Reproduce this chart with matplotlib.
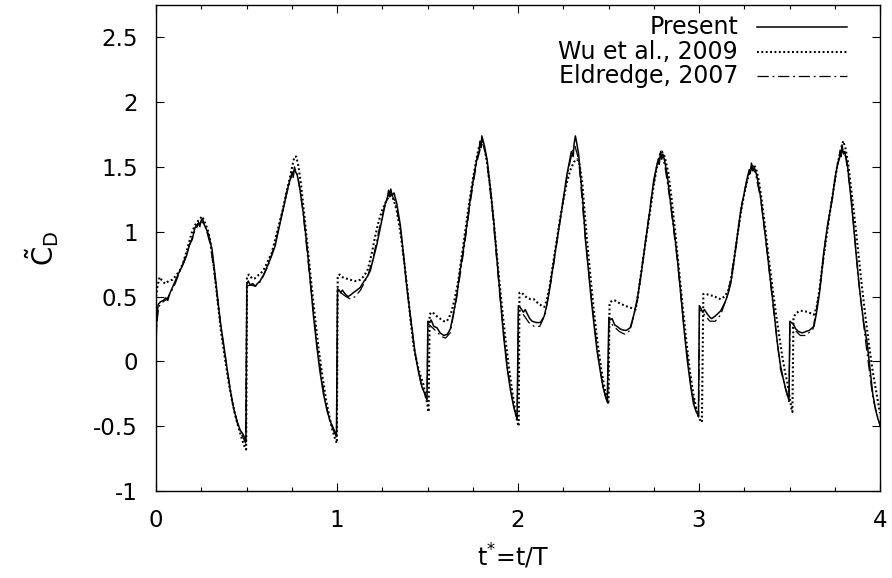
import numpy as np
import matplotlib
matplotlib.use("Agg")
import matplotlib.pyplot as plt
from matplotlib.ticker import MultipleLocator
from matplotlib.lines import Line2D

plt.rcParams["font.family"] = ["DejaVu Sans"]
plt.rcParams["mathtext.fontset"] = "dejavusans"
plt.rcParams["mathtext.default"] = "regular"

# (t*, C_D) samples, one row per point
present_pts = np.array([
    (0.000, 0.10), (0.004, 0.33), (0.012, 0.44), (0.025, 0.46), (0.040, 0.47), (0.055, 0.49),
    (0.065, 0.47), (0.075, 0.52), (0.100, 0.60), (0.125, 0.68), (0.150, 0.75), (0.170, 0.82),
    (0.185, 0.90), (0.200, 0.94), (0.215, 1.03), (0.225, 1.05), (0.235, 1.07), (0.242, 1.04),
    (0.250, 1.09), (0.258, 1.10), (0.265, 1.06), (0.275, 1.03), (0.290, 0.98), (0.310, 0.86),
    (0.330, 0.62), (0.355, 0.31), (0.375, 0.12), (0.390, -0.03), (0.410, -0.22), (0.430, -0.37),
    (0.450, -0.47), (0.465, -0.53), (0.480, -0.56), (0.490, -0.59), (0.497, -0.62),
    (0.502, 0.60), (0.510, 0.62), (0.520, 0.59), (0.535, 0.60), (0.548, 0.58), (0.560, 0.60),
    (0.575, 0.62), (0.595, 0.67), (0.620, 0.75), (0.640, 0.82), (0.658, 0.89), (0.675, 1.00),
    (0.695, 1.13), (0.710, 1.22), (0.723, 1.31), (0.740, 1.40), (0.752, 1.46), (0.758, 1.42),
    (0.765, 1.50), (0.772, 1.46), (0.780, 1.44), (0.795, 1.33), (0.815, 1.13), (0.835, 0.88),
    (0.852, 0.62), (0.870, 0.35), (0.889, 0.11), (0.905, -0.07), (0.925, -0.25), (0.945, -0.38),
    (0.962, -0.46), (0.978, -0.51), (0.990, -0.55), (0.997, -0.58),
    (1.003, 0.56), (1.012, 0.55), (1.020, 0.53), (1.030, 0.55), (1.045, 0.52), (1.060, 0.50),
    (1.073, 0.51), (1.090, 0.53), (1.110, 0.55), (1.128, 0.57), (1.150, 0.62), (1.170, 0.66),
    (1.184, 0.70), (1.200, 0.79), (1.220, 0.90), (1.245, 1.07), (1.267, 1.22), (1.278, 1.26),
    (1.285, 1.32), (1.290, 1.27), (1.297, 1.33), (1.305, 1.28), (1.315, 1.30), (1.330, 1.22),
    (1.350, 1.05), (1.368, 0.82), (1.386, 0.57), (1.410, 0.30), (1.432, 0.06), (1.450, -0.08),
    (1.470, -0.20), (1.485, -0.25), (1.497, -0.29),
    (1.502, 0.31), (1.510, 0.30), (1.520, 0.32), (1.535, 0.27), (1.552, 0.26), (1.570, 0.22),
    (1.590, 0.20), (1.610, 0.21), (1.626, 0.25), (1.645, 0.38), (1.663, 0.52), (1.680, 0.70),
    (1.700, 0.88), (1.720, 1.08), (1.737, 1.26), (1.755, 1.42), (1.774, 1.57), (1.785, 1.62),
    (1.790, 1.70), (1.796, 1.65), (1.800, 1.74), (1.808, 1.70), (1.815, 1.66), (1.830, 1.55),
    (1.848, 1.33), (1.866, 1.08), (1.885, 0.77), (1.903, 0.47), (1.920, 0.20), (1.940, -0.05),
    (1.958, -0.22), (1.976, -0.35), (1.988, -0.41), (1.995, -0.44),
    (2.002, 0.43), (2.010, 0.42), (2.020, 0.40), (2.030, 0.38), (2.040, 0.40), (2.050, 0.37),
    (2.065, 0.33), (2.078, 0.31), (2.100, 0.30), (2.124, 0.30), (2.145, 0.35), (2.160, 0.44),
    (2.175, 0.56), (2.190, 0.70), (2.210, 0.88), (2.235, 1.11), (2.250, 1.25), (2.270, 1.44),
    (2.285, 1.55), (2.295, 1.62), (2.305, 1.58), (2.310, 1.68), (2.317, 1.74), (2.325, 1.68),
    (2.335, 1.60), (2.345, 1.44), (2.360, 1.20), (2.373, 0.93), (2.388, 0.72), (2.400, 0.54),
    (2.420, 0.28), (2.437, 0.08), (2.455, -0.08), (2.470, -0.20), (2.485, -0.28), (2.493, -0.31),
    (2.502, 0.34), (2.510, 0.32), (2.520, 0.33), (2.535, 0.28), (2.548, 0.27), (2.565, 0.25),
    (2.585, 0.24), (2.600, 0.24), (2.620, 0.26), (2.640, 0.36), (2.660, 0.49), (2.685, 0.72),
    (2.705, 0.93), (2.730, 1.18), (2.750, 1.40), (2.765, 1.50), (2.775, 1.56), (2.780, 1.52),
    (2.788, 1.62), (2.795, 1.56), (2.800, 1.60), (2.810, 1.55), (2.824, 1.44), (2.845, 1.20),
    (2.865, 0.98), (2.880, 0.80), (2.898, 0.54), (2.915, 0.28), (2.935, 0.01), (2.955, -0.20),
    (2.970, -0.33), (2.985, -0.39), (2.997, -0.42),
    (3.002, 0.43), (3.010, 0.41), (3.020, 0.38), (3.030, 0.40), (3.046, 0.365), (3.060, 0.34),
    (3.070, 0.33), (3.090, 0.35), (3.120, 0.39), (3.145, 0.46), (3.160, 0.52), (3.175, 0.60),
    (3.190, 0.74), (3.200, 0.85), (3.215, 1.00), (3.230, 1.16), (3.250, 1.30), (3.267, 1.42),
    (3.278, 1.48), (3.283, 1.45), (3.290, 1.53), (3.297, 1.47), (3.305, 1.50), (3.320, 1.43),
    (3.340, 1.27), (3.355, 1.10), (3.368, 0.95), (3.390, 0.68), (3.414, 0.39), (3.432, 0.15),
    (3.450, -0.03), (3.465, -0.13), (3.480, -0.22), (3.497, -0.30),
    (3.502, 0.31), (3.510, 0.30), (3.520, 0.29), (3.535, 0.25), (3.550, 0.23), (3.570, 0.22),
    (3.590, 0.23), (3.610, 0.24), (3.635, 0.27), (3.650, 0.38), (3.665, 0.52), (3.690, 0.85),
    (3.710, 1.05), (3.737, 1.26), (3.750, 1.40), (3.765, 1.52), (3.775, 1.56), (3.780, 1.62),
    (3.785, 1.58), (3.790, 1.67), (3.798, 1.60), (3.805, 1.62), (3.820, 1.52), (3.838, 1.28),
    (3.855, 1.03), (3.870, 0.80), (3.890, 0.52), (3.910, 0.30), (3.930, 0.13), (3.945, -0.06),
    (3.960, -0.25), (3.975, -0.37), (3.990, -0.45), (4.000, -0.48),
])

wu_pts = np.array([
    (0.000, 0.50), (0.008, 0.58), (0.020, 0.65), (0.035, 0.62), (0.050, 0.60), (0.070, 0.62),
    (0.090, 0.63), (0.110, 0.66), (0.130, 0.70), (0.150, 0.76), (0.175, 0.88), (0.197, 0.99),
    (0.215, 1.05), (0.230, 1.08), (0.243, 1.10), (0.255, 1.12), (0.270, 1.07), (0.285, 1.02),
    (0.300, 0.93), (0.320, 0.72), (0.340, 0.47), (0.360, 0.22), (0.380, 0.03), (0.400, -0.15),
    (0.420, -0.30), (0.440, -0.43), (0.460, -0.53), (0.475, -0.60), (0.490, -0.66), (0.498, -0.68),
    (0.503, 0.66), (0.515, 0.67), (0.530, 0.64), (0.545, 0.64), (0.560, 0.66), (0.580, 0.68),
    (0.600, 0.72), (0.620, 0.78), (0.640, 0.84), (0.660, 0.95), (0.680, 1.06), (0.700, 1.17),
    (0.720, 1.30), (0.740, 1.42), (0.755, 1.52), (0.765, 1.58), (0.775, 1.58), (0.785, 1.52),
    (0.800, 1.38), (0.820, 1.12), (0.840, 0.85), (0.860, 0.58), (0.880, 0.32), (0.900, 0.08),
    (0.920, -0.12), (0.940, -0.30), (0.960, -0.44), (0.975, -0.53), (0.990, -0.60), (0.999, -0.63),
    (1.004, 0.66), (1.015, 0.67), (1.030, 0.65), (1.050, 0.64), (1.073, 0.63), (1.100, 0.62),
    (1.128, 0.63), (1.150, 0.66), (1.170, 0.71), (1.190, 0.82), (1.210, 0.96), (1.230, 1.08),
    (1.250, 1.17), (1.270, 1.23), (1.285, 1.27), (1.300, 1.28), (1.315, 1.24), (1.330, 1.16),
    (1.350, 1.00), (1.370, 0.78), (1.390, 0.55), (1.405, 0.33), (1.425, 0.10), (1.450, -0.06),
    (1.478, -0.18), (1.490, -0.27), (1.500, -0.34), (1.506, -0.39),
    (1.512, 0.36), (1.520, 0.38), (1.535, 0.37), (1.550, 0.35), (1.570, 0.33), (1.590, 0.31),
    (1.607, 0.31), (1.630, 0.37), (1.650, 0.48), (1.670, 0.62), (1.690, 0.82), (1.710, 1.02),
    (1.730, 1.22), (1.750, 1.40), (1.770, 1.56), (1.785, 1.66), (1.800, 1.70), (1.815, 1.65),
    (1.830, 1.52), (1.850, 1.30), (1.870, 1.02), (1.890, 0.72), (1.910, 0.44), (1.930, 0.18),
    (1.950, -0.05), (1.970, -0.25), (1.985, -0.38), (1.995, -0.46), (2.004, -0.50),
    (2.008, 0.53), (2.020, 0.53), (2.035, 0.51), (2.050, 0.49), (2.070, 0.48), (2.087, 0.48),
    (2.110, 0.45), (2.130, 0.43), (2.145, 0.42), (2.160, 0.48), (2.175, 0.58), (2.190, 0.72),
    (2.210, 0.90), (2.230, 1.08), (2.250, 1.24), (2.270, 1.38), (2.290, 1.48), (2.310, 1.54),
    (2.327, 1.56), (2.340, 1.52), (2.355, 1.38), (2.370, 1.12), (2.385, 0.88), (2.400, 0.66),
    (2.420, 0.38), (2.440, 0.14), (2.460, -0.06), (2.475, -0.18), (2.490, -0.28), (2.500, -0.33),
    (2.506, 0.45), (2.520, 0.47), (2.535, 0.47), (2.560, 0.45), (2.590, 0.43), (2.620, 0.415),
    (2.650, 0.40), (2.670, 0.58), (2.690, 0.78), (2.710, 0.97), (2.730, 1.16), (2.750, 1.36),
    (2.770, 1.52), (2.785, 1.60), (2.795, 1.62), (2.810, 1.58), (2.830, 1.46), (2.850, 1.24),
    (2.870, 0.98), (2.890, 0.70), (2.910, 0.42), (2.930, 0.16), (2.950, -0.08), (2.970, -0.26),
    (2.990, -0.40), (3.005, -0.45), (3.016, -0.47),
    (3.024, 0.52), (3.040, 0.52), (3.060, 0.51), (3.083, 0.505), (3.100, 0.49), (3.120, 0.48),
    (3.140, 0.50), (3.160, 0.54), (3.180, 0.65), (3.200, 0.85), (3.220, 1.05), (3.240, 1.22),
    (3.260, 1.36), (3.280, 1.46), (3.300, 1.52), (3.315, 1.49), (3.330, 1.40), (3.345, 1.26),
    (3.365, 1.04), (3.385, 0.80), (3.405, 0.58), (3.425, 0.37), (3.443, 0.20), (3.460, 0.04),
    (3.475, -0.08), (3.489, -0.17), (3.500, -0.27), (3.510, -0.36), (3.516, -0.39),
    (3.522, 0.34), (3.535, 0.37), (3.545, 0.38), (3.560, 0.39), (3.580, 0.39), (3.600, 0.38),
    (3.620, 0.37), (3.635, 0.36), (3.650, 0.42), (3.665, 0.55), (3.680, 0.72), (3.700, 0.92),
    (3.720, 1.12), (3.740, 1.30), (3.760, 1.48), (3.780, 1.62), (3.797, 1.70), (3.810, 1.64),
    (3.825, 1.52), (3.840, 1.34), (3.860, 1.10), (3.880, 0.84), (3.900, 0.58), (3.920, 0.34),
    (3.940, 0.12), (3.960, -0.08), (3.980, -0.24), (4.000, -0.40),
])

eldredge_pts = np.array([
    (0.000, 0.15), (0.005, 0.30), (0.015, 0.42), (0.030, 0.45), (0.060, 0.48), (0.100, 0.58),
    (0.140, 0.72), (0.180, 0.88), (0.210, 0.99), (0.235, 1.06), (0.255, 1.08), (0.275, 1.03),
    (0.300, 0.90), (0.330, 0.60), (0.360, 0.25), (0.390, -0.03), (0.420, -0.30), (0.450, -0.48),
    (0.475, -0.57), (0.495, -0.63),
    (0.502, 0.58), (0.520, 0.59), (0.550, 0.58), (0.580, 0.62), (0.620, 0.74), (0.660, 0.92),
    (0.700, 1.16), (0.730, 1.34), (0.755, 1.46), (0.770, 1.48), (0.785, 1.42), (0.810, 1.18),
    (0.850, 0.64), (0.890, 0.12), (0.930, -0.27), (0.960, -0.46), (0.985, -0.55), (0.998, -0.58),
    (1.003, 0.55), (1.020, 0.53), (1.050, 0.50), (1.075, 0.48), (1.100, 0.50), (1.130, 0.55),
    (1.170, 0.66), (1.200, 0.80), (1.230, 1.00), (1.260, 1.18), (1.285, 1.28), (1.300, 1.29),
    (1.320, 1.24), (1.350, 1.04), (1.385, 0.58), (1.430, 0.07), (1.465, -0.18), (1.497, -0.30),
    (1.503, 0.29), (1.520, 0.27), (1.550, 0.23), (1.580, 0.19), (1.600, 0.18), (1.625, 0.22),
    (1.660, 0.48), (1.700, 0.85), (1.740, 1.26), (1.770, 1.52), (1.795, 1.66), (1.805, 1.68),
    (1.825, 1.58), (1.860, 1.14), (1.900, 0.50), (1.940, -0.04), (1.975, -0.34), (1.995, -0.45),
    (2.003, 0.40), (2.030, 0.36), (2.060, 0.30), (2.090, 0.27), (2.120, 0.27), (2.150, 0.36),
    (2.190, 0.68), (2.230, 1.06), (2.270, 1.42), (2.300, 1.62), (2.315, 1.66), (2.335, 1.56),
    (2.370, 0.98), (2.400, 0.56), (2.440, 0.06), (2.470, -0.20), (2.495, -0.32),
    (2.503, 0.31), (2.530, 0.27), (2.560, 0.23), (2.590, 0.21), (2.620, 0.24), (2.660, 0.47),
    (2.700, 0.88), (2.740, 1.30), (2.770, 1.52), (2.790, 1.58), (2.810, 1.52), (2.840, 1.24),
    (2.880, 0.78), (2.920, 0.22), (2.960, -0.24), (2.998, -0.43),
    (3.003, 0.40), (3.030, 0.36), (3.060, 0.31), (3.090, 0.31), (3.120, 0.36), (3.160, 0.52),
    (3.200, 0.84), (3.240, 1.24), (3.270, 1.43), (3.290, 1.50), (3.310, 1.46), (3.340, 1.26),
    (3.370, 0.92), (3.410, 0.42), (3.450, -0.06), (3.497, -0.31),
    (3.503, 0.29), (3.530, 0.24), (3.560, 0.20), (3.590, 0.20), (3.630, 0.25), (3.670, 0.58),
    (3.700, 0.95), (3.740, 1.30), (3.770, 1.55), (3.790, 1.62), (3.810, 1.58), (3.840, 1.28),
    (3.880, 0.64), (3.920, 0.16), (3.960, -0.28), (4.000, -0.50),
])

series_labels = ["Present", "Wu et al., 2009", "Eldredge, 2007"]
x_ticks = [0, 1, 2, 3, 4]
y_ticks = [-1, -0.5, 0, 0.5, 1, 1.5, 2, 2.5]

W, H = 892, 578
fig = plt.figure(figsize=(W / 100, H / 100), dpi=100)
ax = fig.add_axes([156 / W, (H - 491) / H, (880 - 156) / W, (491 - 5) / H])

styles = [
    dict(color="black", lw=1.1, linestyle="-"),
    dict(color="black", lw=1.5, linestyle=(0, (0.9, 1.2))),
    dict(color="black", lw=0.9, linestyle=(0, (9.0, 3.0, 1.5, 3.0))),
]

ax.plot(eldredge_pts[:, 0], eldredge_pts[:, 1], **styles[2])
ax.plot(wu_pts[:, 0], wu_pts[:, 1], **styles[1])
ax.plot(present_pts[:, 0], present_pts[:, 1], **styles[0])

ax.set_xlim(0, 4)
ax.set_ylim(-1, 2.75)
ax.set_xticks(x_ticks)
ax.set_xticklabels([str(v) for v in x_ticks])
ax.set_yticks(y_ticks)
ax.set_yticklabels(["%g" % v for v in y_ticks])
ax.xaxis.set_minor_locator(MultipleLocator(0.25))

ax.tick_params(axis="both", which="both", direction="in", top=True, right=True,
               labelsize=16.5, width=0.8, color="black")
ax.tick_params(axis="both", which="major", length=6)
ax.tick_params(axis="x", which="minor", length=3)
ax.tick_params(axis="y", which="major", pad=13)
ax.tick_params(axis="x", which="major", pad=13)
for sp in ax.spines.values():
    sp.set_linewidth(1.0)

ax.set_xlabel(r"t$^{*}$=t/T", fontsize=17, labelpad=7)
ax.xaxis.set_label_coords(0.493, -0.105)
ax.set_ylabel(r"$\tilde{\mathregular{C}}_{\mathregular{D}}$", fontsize=20, labelpad=23)

# key in the upper right: right-aligned text followed by a line sample
x_text = (738 - 156) / 724
x0, x1 = (757 - 156) / 724, (847 - 156) / 724
rows = [(491 - 27) / 486, (491 - 52) / 486, (491 - 76) / 486]
for label, st, yr in zip(series_labels, styles, rows):
    ax.text(x_text, yr, label, transform=ax.transAxes, ha="right", va="center", fontsize=17)
    ax.add_line(Line2D([x0, x1], [yr, yr], transform=ax.transAxes, **st))

fig.savefig("out.png", dpi=100)
